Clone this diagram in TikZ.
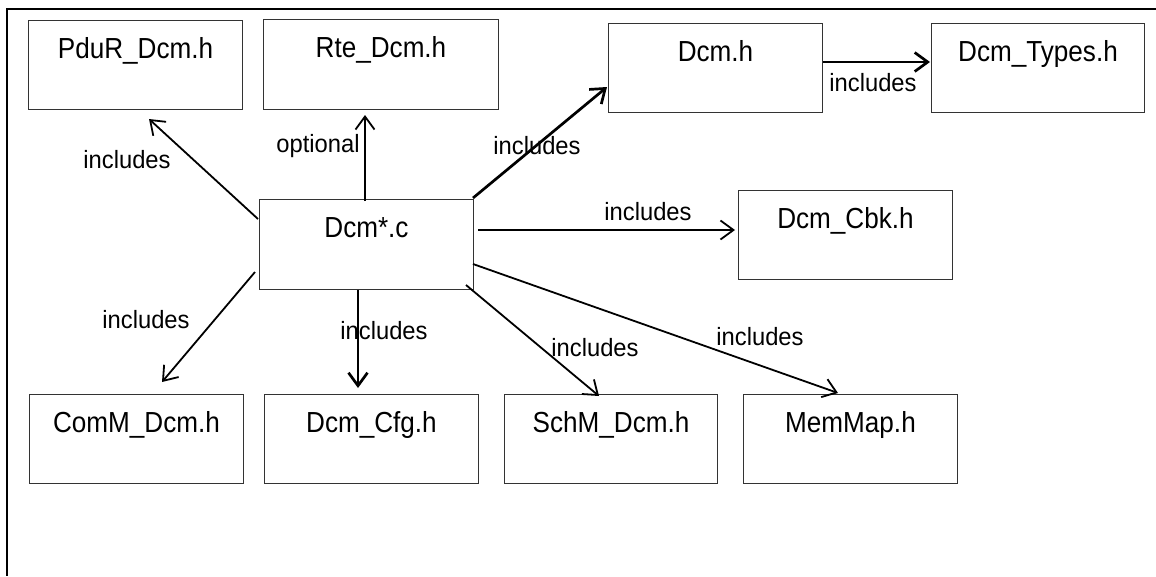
\documentclass[tikz,border=0pt]{standalone}
\usepackage{fontspec}
\usetikzlibrary{arrows.meta,calc}
\newfontfamily\boxfam{Liberation Sans}[FakeStretch=0.9]
\newfontfamily\lblfam{Liberation Sans}[FakeStretch=0.95]
\tikzset{
  filebox/.style={draw=black!80, line width=1pt, anchor=north west, minimum width=214pt,
    inner xsep=0pt, inner ysep=0pt, text height=38pt, text depth=51pt,
    font=\boxfam\fontsize{29}{34}\selectfont},
  arr/.style={line width=1.8pt, -{Straight Barb[length=13pt,width=19pt]}},
  heavy/.style={line width=2.7pt},
  lbl/.style={anchor=base, inner sep=0pt, font=\lblfam\fontsize{25}{30}\selectfont},
  frame/.style={line width=2pt}
}
\begin{document}
\begin{tikzpicture}[x=1pt,y=-1pt]
\useasboundingbox (0,0) rectangle (1156,576);
\draw[frame] (1156,9) -- (7,9) -- (7,576);

\node[filebox] (pdur) at (28,20) {PduR\_Dcm.h};
\node[filebox, minimum width=235pt, text depth=52pt] (rte) at (263,19) {Rte\_Dcm.h};
\node[filebox, text depth=52pt] (dcmc) at (259,199) {Dcm*.c};
\node[filebox] (dcmh) at (608,23) {Dcm.h};
\node[filebox, minimum width=213pt] (types) at (931,23) {Dcm\_Types.h};
\node[filebox] (cbk) at (738,190) {Dcm\_Cbk.h};
\node[filebox] (comm) at (29,394) {ComM\_Dcm.h};
\node[filebox] (cfg) at (264,394) {Dcm\_Cfg.h};
\node[filebox, minimum width=213pt] (schm) at (504,394) {SchM\_Dcm.h};
\node[filebox] (memmap) at (743,394) {MemMap.h};

\draw[arr] ($(dcmc.north west)+(-1,20)$) -- ($(pdur.south west)+(121,9)$);
\draw[arr] ($(dcmc.north west)+(106,2)$) -- ($(rte.south west)+(102,5)$);
\draw[arr, heavy] ($(dcmc.north east)+(-1,-1)$) -- ($(dcmh.north west)+(-1,64)$);
\draw[arr] ($(dcmc.north east)+(4,31)$) -- ($(cbk.north west)+(-3,40)$);
\draw[arr, heavy] ($(dcmh.north east)+(0,39)$) -- ($(types.north west)+(-1,39)$);
\draw[arr] ($(dcmc.north east)+(-1,65)$) -- ($(memmap.north west)+(95,-1)$);
\draw[arr] ($(dcmc.north east)+(-8,86)$) -- ($(schm.north west)+(95,2)$);
\draw[arr, heavy] ($(dcmc.south west)+(99,0)$) -- ($(cfg.north west)+(94,-6)$);
\draw[arr] ($(dcmc.north west)+(-4,73)$) -- ($(comm.north west)+(133,-12)$);

\node[lbl] (l1) at (127,168) {includes};
\node[lbl] (l2) at (318,152) {optional};
\node[lbl] (l3) at (537,154) {includes};
\node[lbl] (l4) at (873,91) {includes};
\node[lbl] (l5) at (648,220) {includes};
\node[lbl] (l6) at (146,328) {includes};
\node[lbl] (l7) at (384,339) {includes};
\node[lbl] (l8) at (595,356) {includes};
\node[lbl] (l9) at (760,345) {includes};
\end{tikzpicture}
\end{document}
